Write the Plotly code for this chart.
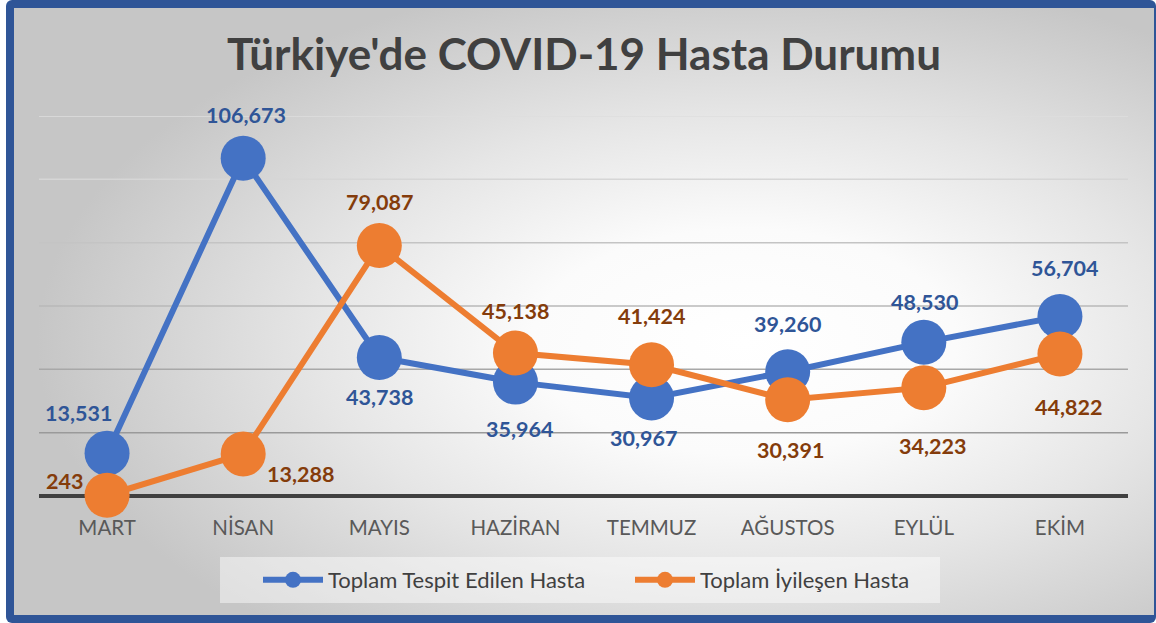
import base64
import plotly.graph_objects as go

# ---- data ----
months = ["MART", "NİSAN", "MAYIS", "HAZİRAN", "TEMMUZ", "AĞUSTOS", "EYLÜL", "EKİM"]
tespit = [13531, 106673, 43738, 35964, 30967, 39260, 48530, 56704]
iyilesen = [243, 13288, 79087, 45138, 41424, 30391, 34223, 44822]
series_names = ["Toplam Tespit Edilen Hasta", "Toplam İyileşen Hasta"]
title_text = "Türkiye'de COVID-19 Hasta Durumu"
grid_values = [20000, 40000, 60000, 80000, 100000, 120000]

# ---- label placement offsets (pixels, style only) ----
blue_dx = [-29, 3, 0, 4, -8, 0, 1, 5]
blue_dy = [-40, -43, 39, 47, 40, -48, -40, -48]
orange_dx = [-43, 57, 0, 0, 0, 3, 9, 9]
orange_dy = [-14, 20, -44, -42, -49, 50, 58, 53]

# ---- layout geometry (pixels) ----
W, H = 1156, 623
L, R, T, B = 39, 1128, 116, 496
pw, ph = R - L, B - T


def px_x(x):
    return (x - L) / pw


def px_y(y):
    return (B - y) / ph


FONT = "Lato, 'Open Sans', sans-serif"
BLUE, ORANGE = "#4472C4", "#ED7D31"
BLUE_TXT, ORANGE_TXT = "#2F5597", "#843C0B"

svg = f"""<svg xmlns='http://www.w3.org/2000/svg' width='{W}' height='{H}' viewBox='0 0 {W} {H}' preserveAspectRatio='none'>
<defs><radialGradient id='g' cx='0.64' cy='0.55' r='0.62'>
<stop offset='0' stop-color='#ffffff'/><stop offset='0.3' stop-color='#fbfbfb'/>
<stop offset='0.6' stop-color='#e6e6e6'/>
<stop offset='1' stop-color='#c6c6c6'/></radialGradient></defs>
<rect x='6' y='0' width='{W-6}' height='{H}' rx='6' ry='6' fill='#2F5597'/>
<rect x='14' y='8' width='1140' height='607' fill='url(#g)'/>
</svg>"""
src = "data:image/svg+xml;base64," + base64.b64encode(svg.encode()).decode()

fig = go.Figure()
fig.add_trace(go.Scatter(
    x=months, y=tespit, name=series_names[0], mode="lines+markers",
    line=dict(color=BLUE, width=6), marker=dict(color=BLUE, size=45),
    cliponaxis=False,
))
fig.add_trace(go.Scatter(
    x=months, y=iyilesen, name=series_names[1], mode="lines+markers",
    line=dict(color=ORANGE, width=6), marker=dict(color=ORANGE, size=45),
    cliponaxis=False,
))

annotations = []
for vals, dxs, dys, col in [(tespit, blue_dx, blue_dy, BLUE_TXT),
                            (iyilesen, orange_dx, orange_dy, ORANGE_TXT)]:
    for m, v, dx, dy in zip(months, vals, dxs, dys):
        annotations.append(dict(
            x=m, y=v, xref="x", yref="y", text=f"{v:,}", showarrow=False,
            xshift=dx, yshift=-dy, xanchor="center", yanchor="middle",
            font=dict(family=FONT, size=21.5, color=col, weight="bold"),
        ))

grid_colors = ["#9a9a9a", "#a8a8a8", "#b8b8b8", "#c4c4c4", "#d6d6d6", "#dedede"]
shapes = []
for v, c in zip(grid_values, grid_colors):
    shapes.append(dict(type="line", xref="paper", yref="y", x0=0, x1=1, y0=v, y1=v,
                       line=dict(color=c, width=1.5), layer="below"))
# legend background
shapes.append(dict(type="rect", xref="paper", yref="paper",
                   x0=px_x(220), x1=px_x(940), y0=px_y(603), y1=px_y(557),
                   fillcolor="rgba(255,255,255,0.45)", line=dict(width=0), layer="below"))

fig.update_layout(
    width=W, height=H,
    margin=dict(l=L, r=W - R, t=T, b=H - B),
    paper_bgcolor="white", plot_bgcolor="rgba(0,0,0,0)",
    images=[dict(source=src, xref="paper", yref="paper", x=px_x(0), y=px_y(0),
                 sizex=W / pw, sizey=H / ph, xanchor="left", yanchor="top",
                 sizing="stretch", layer="below")],
    shapes=shapes,
    annotations=annotations,
    title=dict(text=title_text, x=584 / W, xref="container", xanchor="center",
               y=1 - 55 / H, yref="container", yanchor="middle",
               font=dict(family=FONT, size=44, color="#404040", weight="bold")),
    xaxis=dict(range=[-0.5, 7.5], showgrid=False, showline=False, zeroline=False,
               ticks="outside", ticklen=13, tickcolor="rgba(0,0,0,0)",
               tickfont=dict(family=FONT, size=20.5, color="#595959"), fixedrange=True),
    yaxis=dict(range=[0, 120000], showgrid=False, showticklabels=False,
               zeroline=True, zerolinecolor="#404040", zerolinewidth=3.5, fixedrange=True),
    legend=dict(orientation="h", x=px_x(258), xanchor="left", y=px_y(580), yanchor="middle",
                bgcolor="rgba(0,0,0,0)", font=dict(family=FONT, size=22, color="#404040"),
                itemwidth=60, entrywidth=297, entrywidthmode="pixels"),
    showlegend=True,
)

fig.write_html("out.html", config={"displayModeBar": False},
               post_script="document.body.style.margin='0';document.body.style.overflow='hidden';")
